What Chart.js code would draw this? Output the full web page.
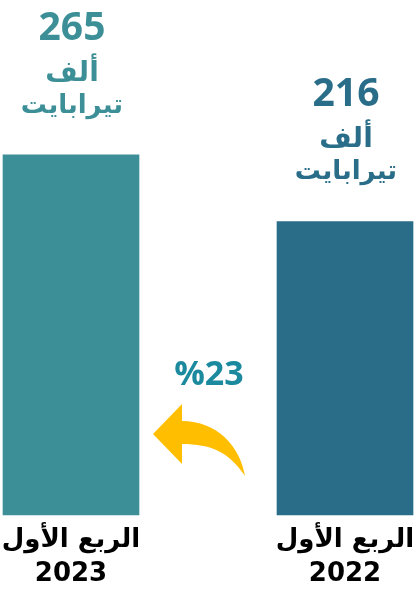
<!DOCTYPE html>
<html lang="ar">
<head>
  <meta charset="UTF-8">
  <title>Quarterly data</title>
  <script src="https://cdn.jsdelivr.net/npm/chart.js"></script>
  <style>
    body { margin: 0; background: #fff; }
    #wrap { width: 415px; height: 592px; position: relative; }
  </style>
</head>
<body>
  <div id="wrap"><canvas id="qChart"></canvas></div>

  <script>
    const quarters = [["الربع الأول", "2023"], ["الربع الأول", "2022"]];
    const values = [265, 216];
    const unitLines = ["ألف", "تيرابايت"];
    const growthLabel = "%23";

    const barColors = ["#3d8f97", "#2a6d89"];
    const arabicFont = '"DejaVu Sans", "Noto Sans", sans-serif';

    // value + unit above each bar
    const topLabels = {
      id: "topLabels",
      afterDatasetsDraw(chart) {
        const ctx = chart.ctx;
        const meta = chart.getDatasetMeta(0);
        ctx.save();
        ctx.textAlign = "center";
        ctx.textBaseline = "alphabetic";
        meta.data.forEach((bar, i) => {
          ctx.fillStyle = barColors[i];
          ctx.font = 'bold 39px "Open Sans", sans-serif';
          ctx.fillText(String(values[i]), bar.x + 1, bar.y - 115);
          ctx.font = "bold 28px " + arabicFont;
          ctx.fillText(unitLines[0], bar.x + 1, bar.y - 74);
          ctx.font = "bold 26px " + arabicFont;
          ctx.fillText(unitLines[1], bar.x + 1, bar.y - 42);
        });
        ctx.restore();
      }
    };

    // yellow curved arrow + growth text between bars
    const growthArrow = {
      id: "growthArrow",
      afterDatasetsDraw(chart) {
        const ctx = chart.ctx;
        const left = chart.getDatasetMeta(0).data[0];
        const x0 = left.x + left.width / 2 + 14;
        const y0 = 434;
        ctx.save();
        ctx.translate(x0, y0);
        ctx.fillStyle = "#ffbf00";
        ctx.beginPath();
        ctx.moveTo(0, 0);
        ctx.lineTo(29, -30);
        ctx.lineTo(29, -13);
        ctx.bezierCurveTo(64, -13, 87, 12, 92, 42);
        ctx.bezierCurveTo(76, 18, 58, 10, 29, 10);
        ctx.lineTo(29, 30);
        ctx.closePath();
        ctx.fill();
        ctx.restore();

        ctx.save();
        ctx.fillStyle = "#1b8a9f";
        ctx.font = 'bold 34px "Open Sans", sans-serif';
        ctx.textAlign = "center";
        ctx.direction = "ltr";
        ctx.fillText(growthLabel, 209, 385);
        ctx.restore();
      }
    };

    new Chart(document.getElementById("qChart"), {
      type: "bar",
      data: {
        labels: quarters,
        datasets: [{
          data: values,
          backgroundColor: barColors,
          barThickness: 136,
          clip: false
        }]
      },
      options: {
        responsive: true,
        maintainAspectRatio: false,
        animation: false,
        layout: { padding: { left: 71, right: 70, top: 0, bottom: 0 } },
        plugins: {
          legend: { display: false },
          tooltip: { enabled: false }
        },
        scales: {
          x: {
            offset: false,
            grid: { display: false, drawTicks: false },
            border: { display: false },
            ticks: {
              color: "#000",
              padding: 9,
              maxRotation: 0,
              minRotation: 0,
              autoSkip: false,
              font: { family: arabicFont, size: 26, weight: "bold", lineHeight: 1.28 }
            },
            afterFit(scale) {
              scale.paddingLeft = 0;
              scale.paddingRight = 0;
              scale.height = 77;
            }
          },
          y: {
            display: false,
            min: 0,
            max: 379
          }
        }
      },
      plugins: [topLabels, growthArrow]
    });
  </script>
</body>
</html>
